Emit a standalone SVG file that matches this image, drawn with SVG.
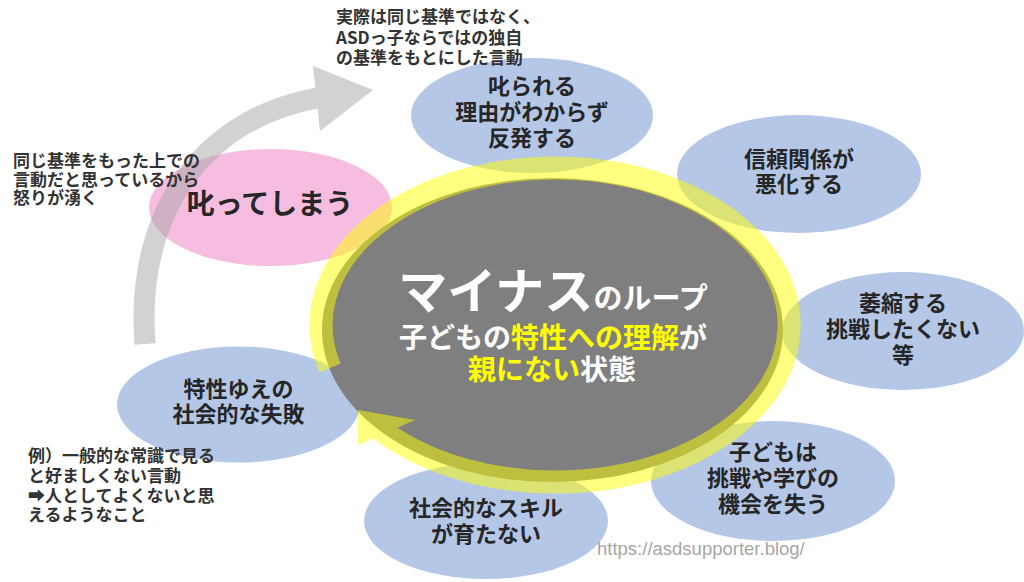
<svg xmlns="http://www.w3.org/2000/svg" width="1024" height="582" viewBox="0 0 1024 582">
<style>
  .t { font-family: "Noto Sans CJK JP", "Noto Sans", "DejaVu Sans", sans-serif; font-weight: bold; fill: #262626; }
  .n { font-size: 22px; text-anchor: middle; }
  .a { font-size: 17px; fill: #333333; }
  .blue { fill: #b4c7e7; }
  .c { font-family: "Noto Sans CJK JP", "Noto Sans", sans-serif; font-weight: bold; fill: #ffffff; text-anchor: middle; }
  .y { fill: #ffff00; }
</style>
<rect width="1024" height="582" fill="#ffffff"/>

<g id="n-scold">
  <ellipse cx="270.5" cy="207.5" rx="121.5" ry="58.5" fill="#f6bde0"/>
  <text class="t" x="270" y="214" font-size="28" text-anchor="middle">叱ってしまう</text>
</g>

<g id="n-rebel">
  <ellipse class="blue" cx="532" cy="115.5" rx="121" ry="57.5"/>
  <text class="t n" x="532" y="94">叱られる</text>
  <text class="t n" x="532" y="120">理由がわからず</text>
  <text class="t n" x="532" y="146">反発する</text>
</g>

<g id="n-trust">
  <ellipse class="blue" cx="799" cy="174" rx="122" ry="59"/>
  <text class="t n" x="799" y="167">信頼関係が</text>
  <text class="t n" x="799" y="192">悪化する</text>
</g>

<g id="n-shrink">
  <ellipse class="blue" cx="903" cy="331" rx="121" ry="59"/>
  <text class="t n" x="903" y="311">萎縮する</text>
  <text class="t n" x="903" y="337">挑戦したくない</text>
  <text class="t n" x="903" y="363">等</text>
</g>

<g id="n-lose">
  <ellipse class="blue" cx="773" cy="481" rx="122" ry="60"/>
  <text class="t n" x="773" y="460">子どもは</text>
  <text class="t n" x="773" y="486">挑戦や学びの</text>
  <text class="t n" x="773" y="512">機会を失う</text>
</g>

<g id="n-skill">
  <ellipse class="blue" cx="486" cy="521" rx="122" ry="58"/>
  <text class="t n" x="486" y="516">社会的なスキル</text>
  <text class="t n" x="486" y="542">が育たない</text>
</g>

<g id="n-fail">
  <ellipse class="blue" cx="238.5" cy="404.5" rx="121.5" ry="58"/>
  <text class="t n" x="238.5" y="397">特性ゆえの</text>
  <text class="t n" x="238.5" y="422">社会的な失敗</text>
</g>

<g id="n-center">
  <ellipse cx="552.5" cy="330" rx="230.5" ry="152" fill="#7f7f7f"/>
  <text class="c" x="553" y="309"><tspan font-size="49">マイナス</tspan><tspan font-size="29">のループ</tspan></text>
  <text class="c" x="553" y="348" font-size="28">子どもの<tspan class="y">特性への理解</tspan>が</text>
  <text class="c" x="552" y="380" font-size="28"><tspan class="y">親にない</tspan>状態</text>
</g>

<g id="connectors">
  <g id="cycle-arrow" opacity="0.5">
    <path d="M145,344 C135,215 200,120 317,98" fill="none" stroke="#a6a6a6" stroke-width="21"/>
    <polygon points="313,66 373,90 320,131" fill="#a6a6a6"/>
  </g>
  <g id="loop-ring" opacity="0.5">
    <path d="M330,368 A234,157 0 1 1 378.4,428" fill="none" stroke="#ffff00" stroke-width="23"/>
    <polygon points="358,410 415,420 358,445" fill="#ffff00"/>
  </g>
</g>

<g id="notes">
  <text class="t a" x="336" y="23">実際は同じ基準ではなく、</text>
  <text class="t a" x="336" y="43.5">ASDっ子ならではの独自</text>
  <text class="t a" x="336" y="64">の基準をもとにした言動</text>

  <text class="t a" x="13" y="167">同じ基準をもった上での</text>
  <text class="t a" x="13" y="185.5">言動だと思っているから</text>
  <text class="t a" x="13" y="204">怒りが湧く</text>

  <text class="t a" x="28" y="462">例）一般的な常識で見る</text>
  <text class="t a" x="28" y="482">と好ましくない言動</text>
  <text class="t a" x="28" y="502">➡人としてよくないと思</text>
  <text class="t a" x="28" y="521">えるようなこと</text>

  <text x="597" y="555" font-family="Liberation Sans, Arial, sans-serif" font-size="18.5" fill="#a6a6a6">https://asdsupporter.blog/</text>
</g>
</svg>
